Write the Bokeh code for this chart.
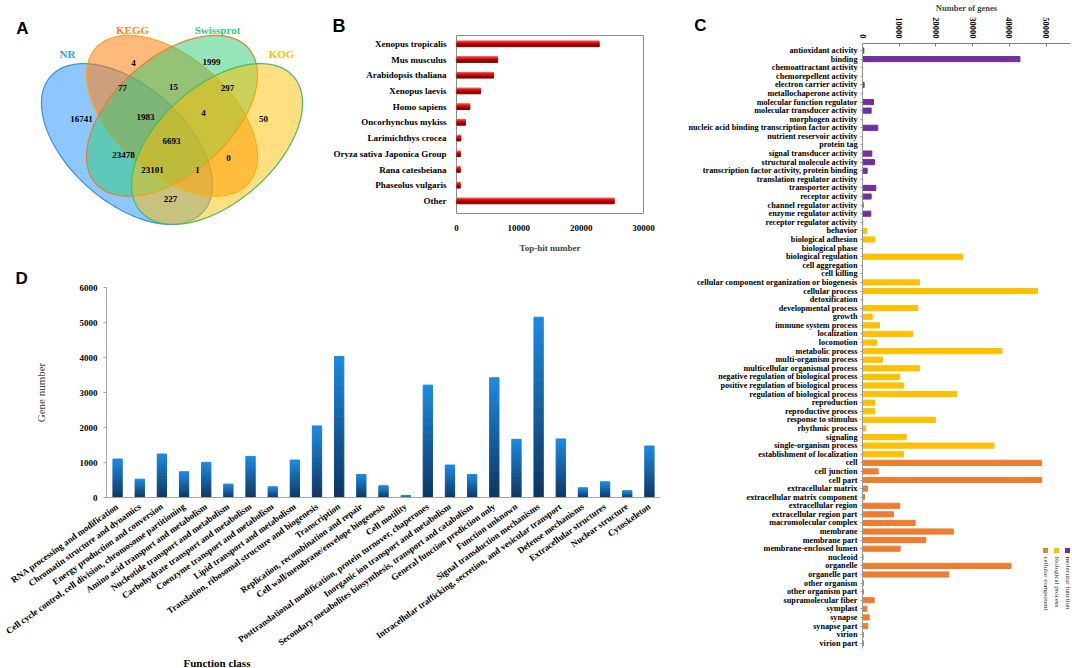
import math
import numpy as np
from bokeh.plotting import figure
from bokeh.layouts import row, column
from bokeh.models import Range1d, FactorRange, FixedTicker, Label, Title
from bokeh.embed import file_html
from bokeh.resources import INLINE
from bokeh.core.properties import value

SERIF = "Liberation Serif"
SANS = "Liberation Sans"

# ======================= DATA =======================
# Panel A: Venn diagram of annotated unigenes
venn_sets = ["NR", "KEGG", "Swissprot", "KOG"]
venn_regions = ["NR", "KEGG", "Swissprot", "KOG",
                "NR&KEGG", "KEGG&Swissprot", "Swissprot&KOG",
                "NR&KEGG&Swissprot", "KEGG&Swissprot&KOG", "NR&KEGG&Swissprot&KOG",
                "NR&Swissprot", "KEGG&KOG", "NR&Swissprot&KOG", "NR&KEGG&KOG", "NR&KOG"]
venn_counts = [16741, 4, 1999, 50, 77, 15, 297, 1983, 4, 6693, 23478, 0, 23101, 1, 227]

# Panel B: top-hit species
species = ["Xenopus tropicalis", "Mus musculus", "Arabidopsis thaliana", "Xenopus laevis",
           "Homo sapiens", "Oncorhynchus mykiss", "Larimichthys crocea",
           "Oryza sativa Japonica Group", "Rana catesbeiana", "Phaseolus vulgaris", "Other"]
top_hits = [22900, 6600, 5950, 3850, 2150, 1450, 700, 620, 600, 600, 25300]

# Panel C: GO classification
mf_terms = ["antioxidant activity", "binding", "chemoattractant activity", "chemorepellent activity",
            "electron carrier activity", "metallochaperone activity", "molecular function regulator",
            "molecular transducer activity", "morphogen activity",
            "nucleic acid binding transcription factor activity", "nutrient reservoir activity",
            "protein tag", "signal transducer activity", "structural molecule activity",
            "transcription factor activity, protein binding", "translation regulator activity",
            "transporter activity", "receptor activity", "channel regulator activity",
            "enzyme regulator activity", "receptor regulator activity"]
mf_counts = [360, 42900, 10, 10, 450, 20, 3000, 2360, 10, 4170, 10, 10, 2540, 3270, 1270, 30,
             3630, 2360, 180, 2270, 30]
bp_terms = ["behavior", "biological adhesion", "biological phase", "biological regulation",
            "cell aggregation", "cell killing", "cellular component organization or biogenesis",
            "cellular process", "detoxification", "developmental process", "growth",
            "immune system process", "localization", "locomotion", "metabolic process",
            "multi-organism process", "multicellular organismal process",
            "negative regulation of biological process", "positive regulation of biological process",
            "regulation of biological process", "reproduction", "reproductive process",
            "response to stimulus", "rhythmic process", "signaling", "single-organism process",
            "establishment of localization"]
bp_counts = [1180, 3360, 50, 27300, 20, 50, 15500, 47700, 60, 15060, 2630, 4630, 13700, 3900,
             38000, 5440, 15500, 10160, 11250, 25700, 3270, 3270, 19870, 900, 11890, 35840, 11160]
cc_terms = ["cell", "cell junction", "cell part", "extracellular matrix",
            "extracellular matrix component", "extracellular region", "extracellular region part",
            "macromolecular complex", "membrane", "membrane part", "membrane-enclosed lumen",
            "nucleoid", "organelle", "organelle part", "other organism", "other organism part",
            "supramolecular fiber", "symplast", "synapse", "synapse part", "virion", "virion part"]
cc_counts = [48820, 4260, 48820, 1360, 540, 10160, 8440, 14340, 24770, 17240, 10250, 180,
             40470, 23500, 270, 270, 3180, 1180, 1810, 1450, 270, 270]
go_groups = ["molecular function", "biological process", "cellular component"]

# Panel D: KOG function classes
kog_classes = ["RNA processing and modification", "Chromatin structure and dynamics",
               "Energy production and conversion",
               "Cell cycle control, cell division, chromosome partitioning",
               "Amino acid transport and metabolism", "Nucleotide transport and metabolism",
               "Carbohydrate transport and metabolism", "Coenzyme transport and metabolism",
               "Lipid transport and metabolism", "Translation, ribosomal structure and biogenesis",
               "Transcription", "Replication, recombination and repair",
               "Cell wall/membrane/envelope biogenesis", "Cell motility",
               "Posttranslational modification, protein turnover, chaperones",
               "Inorganic ion transport and metabolism",
               "Secondary metabolites biosynthesis, transport and catabolism",
               "General function prediction only", "Function unknown",
               "Signal transduction mechanisms",
               "Intracellular trafficking, secretion, and vesicular transport",
               "Defense mechanisms", "Extracellular structures", "Nuclear structure", "Cytoskeleton"]
kog_counts = [1099, 525, 1242, 735, 1003, 382, 1175, 306, 1070, 2045, 4032, 659, 334, 57, 3210,
              927, 659, 3420, 1662, 5150, 1672, 277, 449, 191, 1471]


# ======================= HELPERS =======================
def mix(c1, c2, t):
    a = [int(c1[i:i + 2], 16) for i in (1, 3, 5)]
    b = [int(c2[i:i + 2], 16) for i in (1, 3, 5)]
    return "#%02x%02x%02x" % tuple(int(round(a[k] + (b[k] - a[k]) * t)) for k in range(3))


def style_common(p):
    p.grid.visible = False
    p.background_fill_color = "white"
    p.border_fill_color = "white"


def letter_title(txt, offset):
    return Title(text=txt, align="left", offset=offset, standoff=0, vertical_align="bottom",
                 text_font=SANS, text_font_style="bold", text_font_size="17px",
                 text_color="black")


# ======================= PANEL A =======================
A_W, A_H = 330, 255
pa = figure(width=A_W, height=A_H, x_range=Range1d(0, A_W), y_range=Range1d(0, A_H),
            x_axis_type=None, y_axis_type=None, output_backend="svg", toolbar_location=None,
            min_border=0)
style_common(pa)
pa.outline_line_color = None

# classic four-ellipse Venn layout (unit square), mapped to panel pixels
venn_shape = {"NR": (0.35, 0.47, -1), "KEGG": (0.50, 0.57, -1),
              "Swissprot": (0.50, 0.57, 1), "KOG": (0.65, 0.47, 1)}
E_A, E_B = 0.35, 0.20
SX, SY, OX, OY = 300.0, 282.0, 126.5, 143.5


def to_px(ux, uy):
    return OX + (ux - 0.35) * SX, A_H - (OY - (uy - 0.47) * SY)


venn_fill = {"NR": "#1E90FF", "KEGG": "#FF7F0E", "Swissprot": "#2ECC71", "KOG": "#FFC000"}
venn_line = {"NR": "#3A8FE0", "KEGG": "#F4A72C", "Swissprot": "#F07A22", "KOG": "#44BB66"}
venn_alpha = {"NR": 0.5, "KEGG": 0.55, "Swissprot": 0.5, "KOG": 0.5}
tt = np.linspace(0, 2 * np.pi, 181)
for s in venn_sets:
    cx, cy, sgn = venn_shape[s]
    phi = sgn * np.pi / 4
    ux = cx + E_A * np.cos(tt) * np.cos(phi) - E_B * np.sin(tt) * np.sin(phi)
    uy = cy + E_A * np.cos(tt) * np.sin(phi) + E_B * np.sin(tt) * np.cos(phi)
    px, py = to_px(ux, uy)
    pa.patch(x=px, y=py, fill_color=venn_fill[s], fill_alpha=venn_alpha[s],
             line_color=venn_line[s], line_width=1.2)

venn_label_pos = {"NR": (67, 53), "KEGG": (132, 29), "Swissprot": (217, 29), "KOG": (281, 53)}
venn_label_col = {"NR": "#3399FF", "KEGG": "#FF7F27", "Swissprot": "#33CC80", "KOG": "#FFC000"}
for s in venn_sets:
    lx, ly = venn_label_pos[s]
    pa.text(x=[lx], y=[A_H - ly], text=[s], text_font=value(SERIF), text_font_style="bold",
            text_font_size="11px", text_color=venn_label_col[s], text_align="center",
            text_baseline="middle")

region_pos = {
    "NR": (81, 118), "KEGG": (133, 62), "Swissprot": (211, 61), "KOG": (263, 118),
    "NR&KEGG": (122, 87), "KEGG&Swissprot": (173, 86), "Swissprot&KOG": (227, 87),
    "NR&KEGG&Swissprot": (145, 116), "KEGG&Swissprot&KOG": (203, 112),
    "NR&KEGG&Swissprot&KOG": (171, 140), "NR&Swissprot": (123, 154), "KEGG&KOG": (228, 157),
    "NR&Swissprot&KOG": (152, 169), "NR&KEGG&KOG": (197, 169), "NR&KOG": (170, 198),
}
pa.text(x=[region_pos[r][0] for r in venn_regions],
        y=[A_H - region_pos[r][1] for r in venn_regions],
        text=[str(c) for c in venn_counts], text_font=value(SERIF), text_font_style="bold",
        text_font_size="9px", text_color="black", text_align="center", text_baseline="middle")
pa.add_layout(Label(x=22, y=A_H - 28, text="A", text_font=SANS, text_font_style="bold",
                    text_font_size="17px", text_align="center", text_baseline="middle",
                    text_color="black"))

# ======================= PANEL B =======================
B_W, B_H = 342, 255
B_L, B_R, B_T, B_B = 125, 29, 35, 35
nb = len(species)
yb = [nb - 1 - i for i in range(nb)]
b_y0, b_y1 = -0.8, nb - 1 + 0.53
pb = figure(width=B_W, height=B_H, x_range=Range1d(0, 30000), y_range=Range1d(b_y0, b_y1),
            output_backend="svg", toolbar_location=None,
            min_border_left=B_L, min_border_right=B_R, min_border_top=B_T, min_border_bottom=B_B)
style_common(pb)
pb.title = letter_title("B", -B_L + 1)
pb.title.text_font_size = "18px"
pb.outline_line_color = "#8C8C8C"
pb.outline_line_width = 1
slice_cols = ["#F24848", "#DA1414", "#BE0000", "#840000"]
slice_off = [0.135, 0.045, -0.045, -0.135]
for off, col in zip(slice_off, slice_cols):
    pb.hbar(y=[v + off for v in yb], left=0, right=top_hits, height=0.093, color=col)
pb.xaxis.ticker = FixedTicker(ticks=[0, 10000, 20000, 30000])
pb.yaxis.ticker = FixedTicker(ticks=yb)
pb.yaxis.major_label_overrides = {y: s for y, s in zip(yb, species)}
for ax in (pb.xaxis, pb.yaxis):
    ax.major_label_text_font = SERIF
    ax.major_label_text_font_style = "bold"
    ax.major_label_text_font_size = "9px"
    ax.major_label_text_color = "black"
    ax.major_tick_line_color = None
    ax.minor_tick_line_color = None
    ax.axis_line_color = None
pb.yaxis.major_label_standoff = 4
pb.xaxis.major_label_standoff = 5
pb.xaxis.axis_label = "Top-hit number"
pb.xaxis.axis_label_text_font = SERIF
pb.xaxis.axis_label_text_font_style = "bold"
pb.xaxis.axis_label_text_font_size = "9px"
pb.xaxis.axis_label_standoff = 9

# ======================= PANEL C =======================
C_W, C_H = 400, 668
C_L, C_R, C_T, C_B = 190, 2, 43, 20
go_terms = mf_terms + bp_terms + cc_terms
go_counts = mf_counts + bp_counts + cc_counts
go_cols = {"molecular function": "#7030A0", "biological process": "#FFC000",
           "cellular component": "#ED7D31"}
go_group_of = ([go_groups[0]] * len(mf_terms) + [go_groups[1]] * len(bp_terms)
               + [go_groups[2]] * len(cc_terms))
nc = len(go_terms)
yc = [nc - 1 - i for i in range(nc)]
c_fw = C_W - C_L - C_R
c_fh = C_H - C_T - C_B
c_px = 36.7 / 10000  # pixels per gene
c_row = 8.59         # pixels per category row
c_x1 = c_fw / c_px
c_y1 = nc - 1 + 7 / c_row
c_y0 = c_y1 - c_fh / c_row
pc = figure(width=C_W, height=C_H, x_range=Range1d(0, c_x1), y_range=Range1d(c_y0, c_y1),
            x_axis_location="above", output_backend="svg", toolbar_location=None,
            min_border_left=C_L, min_border_right=C_R, min_border_top=C_T, min_border_bottom=C_B)
style_common(pc)
pc.outline_line_color = None
pc.hbar(y=yc, left=0, right=go_counts, height=0.6, color=[go_cols[g] for g in go_group_of])
pc.xaxis.ticker = FixedTicker(ticks=[0, 10000, 20000, 30000, 40000, 50000])
pc.xaxis.major_label_orientation = -math.pi / 2
pc.xaxis.major_tick_in = 3
pc.xaxis.major_tick_out = 0
pc.xaxis.major_tick_line_color = "#7F7F7F"
pc.xaxis.axis_line_color = "#7F7F7F"
pc.xaxis.major_label_standoff = 5
pc.xaxis.axis_label = "Number of genes"
pc.xaxis.axis_label_text_font = SERIF
pc.xaxis.axis_label_text_font_style = "bold"
pc.xaxis.axis_label_text_font_size = "8.5px"
pc.xaxis.axis_label_standoff = 1
pc.yaxis.ticker = FixedTicker(ticks=yc)
pc.yaxis.major_label_overrides = {y: t for y, t in zip(yc, go_terms)}
pc.yaxis.major_tick_in = 0
pc.yaxis.major_tick_out = 2
pc.yaxis.major_tick_line_color = "#9A9A9A"
pc.yaxis.axis_line_color = "#9A9A9A"
pc.yaxis.major_label_standoff = 3
for ax in (pc.xaxis, pc.yaxis):
    ax.major_label_text_font = SERIF
    ax.major_label_text_font_style = "bold"
    ax.major_label_text_color = "black"
    ax.minor_tick_line_color = None
pc.xaxis.major_label_text_font_size = "8.5px"
pc.yaxis.major_label_text_font_size = "8.2px"

try:
    pc.yaxis.axis_label = "C\n"
    pc.yaxis.axis_label_orientation = "horizontal"
    pc.yaxis.axis_label_align = "end"
    pc.yaxis.axis_label_standoff = -21
    pc.yaxis.axis_label_text_font = SANS
    pc.yaxis.axis_label_text_font_style = "bold"
    pc.yaxis.axis_label_text_font_size = "17px"
    pc.yaxis.axis_label_text_color = "black"
    pc.yaxis.axis_label_text_line_height = 1.9
except Exception:
    pc.yaxis.axis_label = None
    pc.title = letter_title("C", 692 - 862)


def c_data(px, py):
    # reference pixel -> panel C data (frame left at 862, top at 43)
    return (px - (C_L + 672)) / c_px, c_y1 - (py - C_T) / c_row


leg_px = {"molecular function": 1067, "biological process": 1056, "cellular component": 1045}
for g in go_groups:
    sx, sy = c_data(leg_px[g], 550)
    pc.scatter(x=[sx], y=[sy], marker="square", size=5, color=go_cols[g], line_color=None)
    tx, ty = c_data(leg_px[g], 556)
    pc.add_layout(Label(x=tx, y=ty, text=g, angle=-math.pi / 2, text_font=SERIF,
                        text_font_size="7px", text_align="left", text_baseline="middle",
                        text_color="#222222"))

# ======================= PANEL D =======================
D_W, D_H = 672, 413
D_L, D_R, D_T, D_B = 106, 12, 32, 171
pdd = figure(width=D_W, height=D_H, x_range=FactorRange(*kog_classes), y_range=Range1d(0, 6000),
             output_backend="svg", toolbar_location=None,
             min_border_left=D_L, min_border_right=D_R, min_border_top=D_T, min_border_bottom=D_B)
style_common(pdd)
pdd.title = letter_title("D", 15 - D_L)
pdd.outline_line_color = None
N_SLICE = 14
d_dark, d_light = "#0C3660", "#1C8AE2"
for k in range(N_SLICE):
    pdd.vbar(x=kog_classes, bottom=[v * k / N_SLICE for v in kog_counts],
             top=[v * (k + 1) / N_SLICE for v in kog_counts], width=0.42,
             color=mix(d_dark, d_light, (k + 0.5) / N_SLICE))
pdd.yaxis.ticker = FixedTicker(ticks=[0, 1000, 2000, 3000, 4000, 5000, 6000])
pdd.xaxis.major_label_orientation = 0.62
pdd.xaxis.major_tick_line_color = None
pdd.xaxis.major_label_standoff = 2
pdd.yaxis.major_tick_in = 0
pdd.yaxis.major_tick_out = 3
pdd.yaxis.major_tick_line_color = "#A6A6A6"
pdd.yaxis.major_label_standoff = 6
for ax in (pdd.xaxis, pdd.yaxis):
    ax.axis_line_color = "#A6A6A6"
    ax.minor_tick_line_color = None
    ax.major_label_text_font = SERIF
    ax.major_label_text_font_style = "bold"
    ax.major_label_text_color = "black"
pdd.xaxis.major_label_text_font_size = "9px"
pdd.yaxis.major_label_text_font_size = "9px"
pdd.yaxis.axis_label = "Gene number"
pdd.yaxis.axis_label_text_font = SERIF
pdd.yaxis.axis_label_text_font_style = "normal"
pdd.yaxis.axis_label_text_font_size = "11px"
pdd.yaxis.axis_label_standoff = 30
pdd.add_layout(Title(text="Function class", align="left", offset=183 - D_L, standoff=0,
                     vertical_align="bottom", text_font=SERIF, text_font_style="bold",
                     text_font_size="11px", text_color="black"), "below")

layout = row(column(row(column(pa), column(pb)), pdd), pc)
open("out.html", "w").write(file_html(layout, INLINE))
